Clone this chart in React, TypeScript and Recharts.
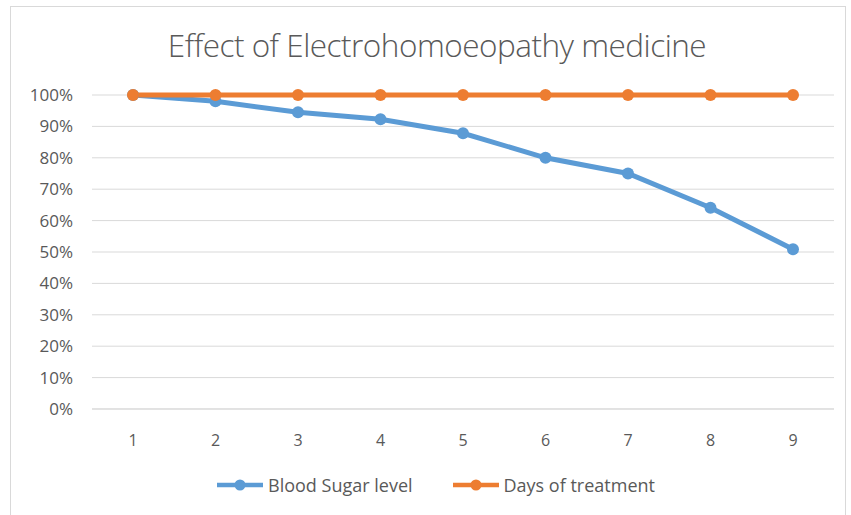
import React from "react";
import { LineChart, Line, XAxis, YAxis, CartesianGrid } from "recharts";

// values (percent)
const days = ["1", "2", "3", "4", "5", "6", "7", "8", "9"];
const bloodSugar = [100, 98, 94.5, 92.3, 87.8, 80, 75, 64.1, 50.9];
const treatment = [100, 100, 100, 100, 100, 100, 100, 100, 100];
const yTicks = [0, 10, 20, 30, 40, 50, 60, 70, 80, 90, 100];

const BLUE = "#5B9BD5";
const ORANGE = "#ED7D31";
const FONT = "'Open Sans', 'Noto Sans', sans-serif";

const chartData = days.map((d, i) => ({
  day: d,
  bloodSugar: bloodSugar[i],
  treatment: treatment[i],
}));

function LegendItem({ color, label, gap }: { color: string; label: string; gap: number }) {
  return (
    <div style={{ display: "flex", alignItems: "center", marginRight: gap }}>
      <svg width={46} height={12} style={{ marginRight: 5 }}>
        <line x1={0} y1={6} x2={46} y2={6} stroke={color} strokeWidth={4.5} />
        <circle cx={23} cy={6} r={5.5} fill={color} />
      </svg>
      <span style={{ fontSize: 18, color: "#595959", whiteSpace: "nowrap" }}>{label}</span>
    </div>
  );
}

export default function App() {
  return (
    <div
      style={{
        position: "absolute",
        left: 0,
        top: 0,
        width: 851,
        height: 515,
        background: "#fff",
        fontFamily: FONT,
        overflow: "hidden",
      }}
    >
      <div
        style={{
          position: "absolute",
          left: 10,
          top: 6,
          width: 836,
          height: 510,
          border: "1px solid #d9d9d9",
          boxSizing: "border-box",
        }}
      />
      <div
        style={{
          position: "absolute",
          left: 0,
          top: 25,
          width: 874,
          textAlign: "center",
          fontSize: 31.5,
          fontWeight: 300,
          color: "#595959",
          letterSpacing: -0.5,
          lineHeight: "40px",
        }}
      >
        Effect of Electrohomoeopathy medicine
      </div>
      <div style={{ position: "absolute", left: 0, top: 0 }}>
        <LineChart
          width={851}
          height={515}
          data={chartData}
          margin={{ top: 95, right: 17, left: 8, bottom: 66 }}
        >
          <CartesianGrid vertical={false} stroke="#d9d9d9" strokeWidth={1} />
          <XAxis
            dataKey="day"
            axisLine={{ stroke: "#d9d9d9" }}
            tickLine={false}
            height={40}
            padding={{ left: 41, right: 41 }}
            tickMargin={20}
            tick={{ fontSize: 16, fill: "#595959", fontFamily: FONT }}
          />
          <YAxis
            width={84}
            domain={[0, 100]}
            ticks={yTicks}
            interval={0}
            axisLine={false}
            tickLine={false}
            tickMargin={13}
            tickFormatter={(v: number) => `${v}%`}
            tick={{ fontSize: 17, fill: "#595959", fontFamily: FONT }}
          />
          <Line
            dataKey="bloodSugar"
            stroke={BLUE}
            strokeWidth={5}
            dot={{ r: 6, fill: BLUE, stroke: BLUE, strokeWidth: 0 }}
            isAnimationActive={false}
          />
          <Line
            dataKey="treatment"
            stroke={ORANGE}
            strokeWidth={5}
            dot={{ r: 6, fill: ORANGE, stroke: ORANGE, strokeWidth: 0 }}
            isAnimationActive={false}
          />
        </LineChart>
      </div>
      <div
        style={{
          position: "absolute",
          left: 217,
          top: 473,
          display: "flex",
          alignItems: "center",
        }}
      >
        <LegendItem color={BLUE} label="Blood Sugar level" gap={40} />
        <LegendItem color={ORANGE} label="Days of treatment" gap={0} />
      </div>
    </div>
  );
}
